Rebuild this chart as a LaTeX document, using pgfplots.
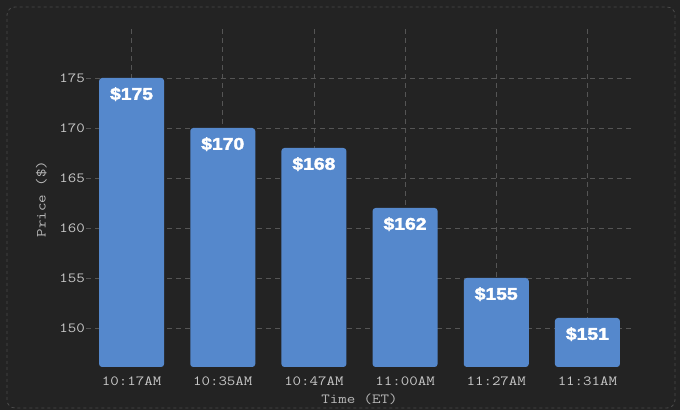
\documentclass[border=0pt]{standalone}
\usepackage{pgfplots}
\pgfplotsset{compat=1.18}
\usepackage{fontspec}
\setmainfont{Liberation Sans}
\newfontfamily\monofont[FakeStretch=1.18]{Latin Modern Mono}
\newfontfamily\barfont[BoldFeatures={FakeBold=2.2,FakeStretch=1.14}]{Liberation Sans}
\definecolor{bgc}{HTML}{232323}
\definecolor{bordc}{HTML}{4A4A4A}
\definecolor{gridc}{HTML}{555555}
\definecolor{barc}{HTML}{5588CC}
\definecolor{tickc}{HTML}{C8C8C8}
\definecolor{labc}{HTML}{B8B8B8}
\begin{document}
\begin{tikzpicture}
\fill[bgc] (0bp,0bp) rectangle (680bp,410bp);
\useasboundingbox (0bp,0bp) rectangle (680bp,410bp);
\draw[bordc, dash pattern=on 3bp off 3bp, rounded corners=8bp, line width=0.8bp] (7bp,2bp) rectangle (675bp,403bp);
\begin{axis}[
  at={(86bp,43bp)}, anchor=south west,
  scale only axis, width=547bp, height=339bp,
  xmin=-0.5, xmax=5.5, ymin=146.1, ymax=180,
  /pgf/number format/assume math mode=true,
  axis line style={draw=none},
  major tick style={draw=none},
  xtick={0,1,2,3,4,5},
  xticklabels={10:17AM,10:35AM,10:47AM,11:00AM,11:27AM,11:31AM},
  ytick={150,155,160,165,170,175},
  grid=major,
  major grid style={color=gridc, dash pattern=on 5bp off 4bp, line width=0.8bp},
  ticklabel style={font=\monofont\fontsize{14}{14}\selectfont, text=tickc},
  yticklabel style={inner sep=1bp},
  xticklabel style={yshift=-2bp},
  ybar, bar width=65bp,
  nodes near coords={\$\pgfmathprintnumber{\pgfplotspointmeta}},
  every node near coord/.append style={font=\barfont\bfseries\fontsize{17}{17}\selectfont, text=white, anchor=north, inner sep=0pt, yshift=-9bp},
]
\addplot[fill=barc, draw=none, rounded corners=3bp] coordinates {(0,175) (1,170) (2,168) (3,162) (4,155) (5,151)};
\end{axis}
\node[font=\monofont\fontsize{14}{14}\selectfont, text=labc, anchor=base] at (359.5bp,7bp) {Time (ET)};
\node[font=\monofont\fontsize{14}{14}\selectfont, text=labc, anchor=base, rotate=90] at (45.5bp,211bp) {Price (\$)};
\end{tikzpicture}
\end{document}
